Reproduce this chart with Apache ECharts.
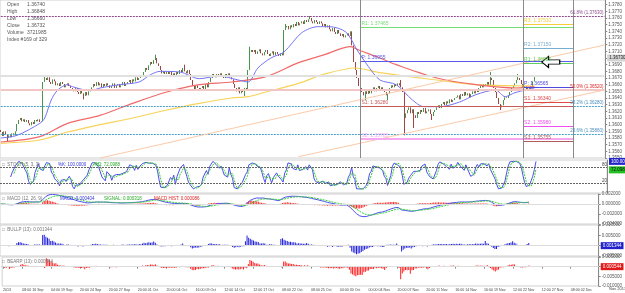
<!DOCTYPE html>
<html>
<head>
<meta charset="utf-8">
<script src="https://cdn.jsdelivr.net/npm/echarts@6/dist/echarts.min.js"></script>
<style>
html, body { margin: 0; padding: 0; background: #fff; }
#chart { width: 625px; height: 293px; }
</style>
</head>
<body>
<div id="chart"></div>
<script>
// price bars (H4), open of each bar = previous close
const firstOpen = 1.3592;
const closes = [
  1.3589, 1.3583, 1.3590, 1.3586, 1.3580, 1.3584, 1.3581, 1.3587, 1.3584, 1.3590,
  1.3601, 1.3607, 1.3610, 1.3605, 1.3608, 1.3604, 1.3607, 1.3602, 1.3599, 1.3604, 1.3601, 1.3607, 1.3605, 1.3608, 1.3604, 1.3605,
  1.3664, 1.3670,
  1.3667, 1.3671, 1.3664, 1.3661, 1.3668, 1.3665, 1.3659, 1.3662, 1.3658, 1.3664, 1.3661, 1.3656, 1.3659, 1.3662, 1.3658, 1.3655,
  1.3653, 1.3650, 1.3655, 1.3649, 1.3646, 1.3652, 1.3647, 1.3643, 1.3649, 1.3644, 1.3650, 1.3653, 1.3656,
  1.3661, 1.3658, 1.3664, 1.3659, 1.3662, 1.3656, 1.3661, 1.3658, 1.3662, 1.3659, 1.3655,
  1.3658, 1.3662, 1.3655, 1.3659, 1.3661, 1.3656, 1.3659, 1.3664, 1.3658, 1.3661,
  1.3664, 1.3667, 1.3662, 1.3668, 1.3665, 1.3671, 1.3667, 1.3670, 1.3674, 1.3673,
  1.3679, 1.3685, 1.3682, 1.3689, 1.3694, 1.3691, 1.3697, 1.3700,
  1.3692, 1.3688, 1.3682,
  1.3677, 1.3680, 1.3676,
  1.3679, 1.3676, 1.3680, 1.3674, 1.3677, 1.3673, 1.3679, 1.3676, 1.3682, 1.3679, 1.3685, 1.3680, 1.3677, 1.3682, 1.3676,
  1.3667, 1.3658, 1.3653, 1.3659, 1.3655, 1.3652,
  1.3655, 1.3658, 1.3653, 1.3661, 1.3656, 1.3664, 1.3670, 1.3676,
  1.3674, 1.3671, 1.3676, 1.3673, 1.3677, 1.3674, 1.3670, 1.3676, 1.3673, 1.3677, 1.3671, 1.3668,
  1.3661, 1.3655, 1.3650, 1.3656, 1.3647, 1.3653, 1.3649, 1.3655, 1.3652,
  1.3682, 1.3709, 1.3712,
  1.3709, 1.3712, 1.3706, 1.3710, 1.3713, 1.3707, 1.3704, 1.3709, 1.3712, 1.3706, 1.3703, 1.3707, 1.3710, 1.3704, 1.3709, 1.3706, 1.3703, 1.3707, 1.3704,
  1.3742, 1.3746,
  1.3748, 1.3743, 1.3749, 1.3746, 1.3751, 1.3748, 1.3754, 1.3749, 1.3752, 1.3755, 1.3751, 1.3757, 1.3754, 1.3758, 1.3760, 1.3755, 1.3752, 1.3757, 1.3754, 1.3751, 1.3755, 1.3752, 1.3748, 1.3751, 1.3746, 1.3749,
  1.3743, 1.3740, 1.3745, 1.3739, 1.3736, 1.3742, 1.3737, 1.3733, 1.3736, 1.3731, 1.3734,
  1.3737, 1.3733, 1.3740, 1.3719, 1.3694, 1.3682,
  1.3670, 1.3658, 1.3655,
  1.3649, 1.3644, 1.3650, 1.3646, 1.3652, 1.3647,
  1.3653, 1.3656, 1.3650, 1.3655, 1.3658, 1.3652, 1.3656, 1.3653, 1.3649,
  1.3644, 1.3647,
  1.3655, 1.3659, 1.3656, 1.3661, 1.3658, 1.3662, 1.3659, 1.3656,
  1.3649, 1.3610, 1.3617,
  1.3622, 1.3626, 1.3617, 1.3623, 1.3614, 1.3610, 1.3619, 1.3616,
  1.3622, 1.3619, 1.3625, 1.3617, 1.3620, 1.3623, 1.3616, 1.3613, 1.3619, 1.3622,
  1.3626, 1.3629, 1.3625, 1.3631, 1.3634, 1.3629, 1.3635, 1.3632, 1.3638, 1.3634, 1.3637, 1.3640,
  1.3641, 1.3644, 1.3638, 1.3646, 1.3643, 1.3649, 1.3644, 1.3647, 1.3641, 1.3646, 1.3650, 1.3647, 1.3652, 1.3649,
  1.3655, 1.3659, 1.3656, 1.3661, 1.3658, 1.3664, 1.3659, 1.3670,
  1.3667, 1.3655, 1.3649, 1.3640, 1.3631, 1.3626, 1.3629, 1.3637, 1.3641, 1.3640, 1.3644, 1.3649, 1.3655, 1.3659,
  1.3662, 1.3667, 1.3670, 1.3667, 1.3661, 1.3655, 1.3658, 1.3652, 1.3656, 1.3653, 1.3658, 1.3665, 1.3673
];
// wicks that stick out of the bodies
const highWickBars = [27, 95, 113, 153, 175, 190, 246, 301, 318];
const highWickVals = [1.3673, 1.3705, 1.3690, 1.3717, 1.3751, 1.3763, 1.3667, 1.3679, 1.3676];
const lowWickBars = [4, 51, 150, 224, 238, 248, 254, 265, 307];
const lowWickVals = [1.3575, 1.3638, 1.3643, 1.3637, 1.3637, 1.3584, 1.3595, 1.3607, 1.3622];

// moving averages (bar, price)
const fastMaBars = [0, 10, 24, 27, 31, 35, 41, 44, 55, 61, 73, 85, 92, 98, 110, 122, 134, 146, 152, 158, 166, 174, 185, 195, 202, 212, 219, 226, 233, 243, 253, 260, 270, 282, 292, 304, 310, 316, 328];
const fastMaVals = [1.3580, 1.3584, 1.3602, 1.3610, 1.3637, 1.3652, 1.3660, 1.3657, 1.3651, 1.3655, 1.3660, 1.3664, 1.3675, 1.3680, 1.3679, 1.3669, 1.3673, 1.3667, 1.3664, 1.3685, 1.3700, 1.3709, 1.3738, 1.3747, 1.3747, 1.3739, 1.3712, 1.3687, 1.3667, 1.3660, 1.3637, 1.3627, 1.3627, 1.3634, 1.3645, 1.3652, 1.3642, 1.3648, 1.3655];
const midMaBars = [0, 24, 41, 61, 81, 102, 122, 142, 163, 183, 199, 215, 220, 233, 243, 268, 292, 317, 328];
const midMaVals = [1.3574, 1.3582, 1.3602, 1.3614, 1.3632, 1.3649, 1.3660, 1.3664, 1.3672, 1.3693, 1.3705, 1.3717, 1.3712, 1.3700, 1.3690, 1.3670, 1.3660, 1.3655, 1.3657];
const slowMaBars = [0, 24, 41, 61, 81, 102, 122, 142, 152, 163, 183, 199, 218, 233, 268, 292, 328];
const slowMaVals = [1.3572, 1.3577, 1.3589, 1.3600, 1.3610, 1.3622, 1.3632, 1.3640, 1.3642, 1.3649, 1.3662, 1.3676, 1.3685, 1.3678, 1.3667, 1.3660, 1.3658];

// pivots
const weekStart = 221, dayStart = 321, pivotEnd = 352;
const weekPivotNames = ['R1', 'P', 'S1', 'S2'];
const weekPivotVals = [1.37465, 1.36955, 1.36280, 1.35785];
const dayPivotNames = ['R3', 'R2', 'R1', 'P', 'S1', 'S2', 'S3'];
const dayPivotVals = [1.37510, 1.37150, 1.36925, 1.36565, 1.36340, 1.35980, 1.35755];
// fibonacci levels
const fibNames = ['61.8%', '50.0%', '38.2%', '23.6%'];
const fibVals = [1.37630, 1.36520, 1.36280, 1.35860];
// channel lines
const channelStartBars = [61, 183];
const channelStartVals = [1.3550, 1.3552];
const channelEndBar = 371;
const channelEndVals = [1.37195, 1.3652];
// wave marks
const waveNames = ['1', '2', '3', '4'];
const waveBars = [318, 316, 309, 326];
const waveVals = [1.36805, 1.36400, 1.36490, 1.36520];

// time axis
const totalSlots = 372;
const tickBars = [0, 12, 30, 48, 66, 84, 102, 120, 138, 156, 174, 192, 210, 228, 246, 264, 282, 300, 318, 336, 354];
const tickLabels = ['2013', '08:00 16 Sep', '04:00 19 Sep', '20:00 24 Sep', '20:00 27 Sep', '20:00 01 Oct', '20:00 04 Oct',
  '16:00 09 Oct', '12:00 14 Oct', '12:00 17 Oct', '08:00 22 Oct', '08:00 25 Oct', '04:00 30 Oct', '00:00 04 Nov',
  '20:00 07 Nov', '20:00 11 Nov', '16:00 14 Nov', '16:00 19 Nov', '12:00 22 Nov', '12:00 27 Nov', '08:00 02 Dec'];

const legendNames = ['Open', 'High', 'Low', 'Close', 'Volume'];
const legendValues = ['1.36740', '1.36848', '1.36660', '1.36732', '3721985'];
const legendIndex = 'Index #169 of 329';

// ---- build ----
const FONT = 'Liberation Sans';
const opens = closes.map((c, i) => i === 0 ? firstOpen : closes[i - 1]);
const highs = closes.map((c, i) => Math.max(opens[i], c));
const lows = closes.map((c, i) => Math.min(opens[i], c));
highWickBars.forEach((b, i) => { highs[b] = Math.max(highs[b], highWickVals[i]); });
lowWickBars.forEach((b, i) => { lows[b] = Math.min(lows[b], lowWickVals[i]); });
const candles = closes.map((c, i) => [opens[i], c, lows[i], highs[i]]);

function ema(src, n) {
  const k = 2 / (n + 1);
  let prev = src[0];
  return src.map((v, i) => (prev = i === 0 ? v : v * k + prev * (1 - k)));
}
function sma(src, n) {
  return src.map((v, i) => {
    if (i < n - 1) return null;
    let s = 0;
    for (let j = i - n + 1; j <= i; j++) {
      if (src[j] == null) return null;
      s += src[j];
    }
    return s / n;
  });
}
// stochastic 5,3,3
const rawK = closes.map((c, i) => {
  if (i < 4) return null;
  const hh = Math.max(...highs.slice(i - 4, i + 1));
  const ll = Math.min(...lows.slice(i - 4, i + 1));
  return hh === ll ? 50 : (c - ll) / (hh - ll) * 100;
});
const stochK = sma(rawK, 3);
const stochD = sma(stochK, 3);
// macd 12,26,9
const e12 = ema(closes, 12), e26 = ema(closes, 26);
const macd = closes.map((c, i) => e12[i] - e26[i]);
const signal = ema(macd, 9);
const hist = macd.map((m, i) => m - signal[i]);
// bulls / bears power 13
const e13 = ema(closes, 13);
const bulls = highs.map((h, i) => h - e13[i]);
const bears = lows.map((l, i) => l - e13[i]);

const last = closes.length - 1;
const xCats = Array.from({ length: totalSlots }, () => '');
tickBars.forEach((b, i) => { xCats[b] = tickLabels[i]; });
const showTick = (i, v) => v !== '';

const hide = { show: false };
function xAx(idx) {
  const bottom = idx === 4;
  return {
    type: 'category', gridIndex: idx, data: xCats, boundaryGap: true,
    axisLine: { show: bottom, lineStyle: { color: '#888' } },
    axisTick: { show: bottom, interval: showTick, alignWithLabel: true, length: 2, lineStyle: { color: '#888' } },
    axisLabel: { show: bottom, interval: showTick, fontSize: 3.6, color: '#444', align: 'left', margin: 2, fontFamily: FONT },
    splitLine: hide
  };
}
function yAx(idx, extra) {
  return Object.assign({
    type: 'value', gridIndex: idx, position: 'right', scale: true,
    axisLine: { show: true, lineStyle: { color: '#888' } },
    axisTick: { show: true, length: 2, lineStyle: { color: '#888' } },
    axisLabel: { fontSize: 4.5, color: '#555', margin: 3, fontFamily: FONT, formatter: v => v.toFixed(6) },
    splitLine: hide
  }, extra);
}
function boxLine(value, bg, fg, text) {
  return {
    yAxis: value, lineStyle: { color: 'rgba(0,0,0,0)', width: 0 },
    label: { show: true, position: 'end', distance: 2, formatter: text, fontSize: 4.5, color: fg, backgroundColor: bg,
      padding: [1, 2], fontFamily: FONT }
  };
}
function hLine(x0, x1, y, color, width, type, text, pos) {
  return [
    { coord: [x0, y], lineStyle: { color: color, width: width, type: type },
      label: text ? { show: true, formatter: text, position: pos, color: color, fontSize: 5, distance: 1, fontFamily: FONT } : { show: false } },
    { coord: [x1, y] }
  ];
}

const weekColors = ['#77dd77', '#5b5bea', '#c85a5a', '#f7a8f0'];
const weekWidths = [1, 1, 1, 2];
const dayColors = ['#f4cf3c', '#7aaed0', '#60cc60', '#4b4bdd', '#e04848', '#ef4fef', '#b05a5a'];
const fibColors = ['#8e4a8e', '#f3c6c6', '#4aa0c8', '#4aa0c8'];
const fibLabelColors = ['#8e4a8e', '#e02020', '#4a90c0', '#4a90c0'];
const fibWidths = [1, 2, 1, 1];
const fibTypes = [[2, 1], 'solid', [2, 1], [2, 1]];

const guideLines = [];
fibVals.forEach((v, i) => {
  guideLines.push([{ coord: [0, v], lineStyle: { color: fibColors[i], width: fibWidths[i], type: fibTypes[i] },
    label: { show: true, formatter: fibNames[i] + ' (' + v.toFixed(5) + ')', position: 'insideEndTop',
      color: fibLabelColors[i], fontSize: 4.5, distance: 1, fontFamily: FONT } },
    { coord: [totalSlots - 1, v] }]);
});
guideLines.push([{ coord: [0, closes[last]], lineStyle: { color: '#e0e0e0', width: 2, type: 'solid' }, label: hide },
  { coord: [totalSlots - 1, closes[last]] }]);
channelStartBars.forEach((b, i) => {
  guideLines.push([{ coord: [b, channelStartVals[i]], lineStyle: { color: '#fbcaa8', width: 1, type: 'solid' }, label: hide },
    { coord: [channelEndBar, channelEndVals[i]] }]);
});
weekPivotVals.forEach((v, i) => {
  guideLines.push(hLine(weekStart, pivotEnd, v, weekColors[i], weekWidths[i], 'solid',
    weekPivotNames[i] + ': ' + v.toFixed(5), 'insideStartTop'));
});
dayPivotVals.forEach((v, i) => {
  guideLines.push(hLine(dayStart, pivotEnd, v, dayColors[i], 1, 'solid',
    dayPivotNames[i] + ': ' + v.toFixed(5), 'insideStartTop'));
});
[weekStart, dayStart, pivotEnd].forEach(b => {
  guideLines.push({ xAxis: b, lineStyle: { color: '#8a8a8a', width: 1, type: 'solid' }, label: hide });
});
guideLines.push(boxLine(closes[last], '#d4d4d4', '#222', closes[last].toFixed(5)));

const markers = waveNames.map((n, i) => ({
  coord: [waveBars[i], waveVals[i]], symbol: 'circle', symbolSize: 1, itemStyle: { opacity: 0 },
  label: { show: true, formatter: n, color: '#333', fontSize: 5, fontFamily: FONT, position: 'inside' }
}));
markers.push({
  coord: [338, 1.3694], symbol: 'path://M0,5 L6,0 L6,3 L16,3 L16,7 L6,7 L6,10 Z', symbolSize: [18, 11],
  itemStyle: { color: '#fff', borderColor: '#000', borderWidth: 1 }, label: hide
});

const kLast = stochK[last], dLast = stochD[last];
// indicator captions: each piece is its own text so nothing overlaps
function caption(left, top, text, color) {
  return { type: 'text', left: left, top: top, silent: true, z: 100,
    style: { text: text, fontSize: 4.5, fill: color, fontFamily: FONT } };
}
const grey = '#777', capBlue = '#3434e0', capGreen = '#22aa22', capRed = '#e02020';

const option = {
  animation: false,
  backgroundColor: '#fff',
  grid: [
    { left: 0, right: 18, top: 0, height: 158 },
    { left: 0, right: 18, top: 160, height: 33 },
    { left: 0, right: 18, top: 194, height: 30 },
    { left: 0, right: 18, top: 225, height: 31 },
    { left: 0, right: 18, top: 257, height: 29 }
  ].map(g => Object.assign(g, { show: true, borderColor: '#d0d0d0', borderWidth: 1 })),
  xAxis: [0, 1, 2, 3, 4].map(xAx),
  yAxis: [
    yAx(0, { min: 1.3550, max: 1.3787, interval: 0.001, scale: false,
      axisLabel: { fontSize: 4.5, color: '#555', margin: 3, fontFamily: FONT, showMaxLabel: false, formatter: v => v.toFixed(4) } }),
    yAx(1, { min: -15, max: 105, scale: false, axisLabel: hide, axisTick: hide }),
    yAx(2, { splitNumber: 2 }),
    yAx(3, { splitNumber: 2 }),
    yAx(4, { splitNumber: 2 })
  ],
  series: [
    { type: 'line', xAxisIndex: 0, yAxisIndex: 0, data: [], silent: true,
      markLine: { silent: true, symbol: 'none', animation: false, data: guideLines } },
    { type: 'line', xAxisIndex: 0, yAxisIndex: 0, data: slowMaBars.map((b, i) => [b, slowMaVals[i]]), smooth: 0.3,
      showSymbol: false, lineStyle: { color: '#f7d35a', width: 1.2 }, silent: true },
    { type: 'line', xAxisIndex: 0, yAxisIndex: 0, data: midMaBars.map((b, i) => [b, midMaVals[i]]), smooth: 0.3,
      showSymbol: false, lineStyle: { color: '#f06a6a', width: 1.2 }, silent: true },
    { type: 'line', xAxisIndex: 0, yAxisIndex: 0, data: fastMaBars.map((b, i) => [b, fastMaVals[i]]), smooth: 0.3,
      showSymbol: false, lineStyle: { color: '#7474f4', width: 1 }, silent: true },
    { type: 'candlestick', xAxisIndex: 0, yAxisIndex: 0, data: candles, barWidth: 1,
      itemStyle: { color: '#6ec56e', color0: '#c25050', borderColor: '#1b7a1b', borderColor0: '#8a1414', borderWidth: 0.8 },
      markPoint: { silent: true, animation: false, data: markers } },

    { type: 'line', xAxisIndex: 1, yAxisIndex: 1, data: stochK, showSymbol: false,
      lineStyle: { color: '#4d4df0', width: 1 }, silent: true,
      markLine: { silent: true, symbol: 'none', data: [
        { yAxis: 80, lineStyle: { color: '#666', width: 1, type: [2, 1] },
          label: { show: true, position: 'insideEndTop', formatter: '80', fontSize: 4.5, color: '#444', distance: 0 } },
        { yAxis: 20, lineStyle: { color: '#666', width: 1, type: [2, 1] },
          label: { show: true, position: 'insideEndTop', formatter: '20', fontSize: 4.5, color: '#444', distance: 0 } },
        boxLine(kLast, '#2424c8', '#fff', kLast.toFixed(4)),
        boxLine(dLast - 3, '#22c022', '#111', dLast.toFixed(4))
      ] } },
    { type: 'line', xAxisIndex: 1, yAxisIndex: 1, data: stochD, showSymbol: false,
      lineStyle: { color: '#33cc33', width: 1, type: [2, 1] }, silent: true },

    { type: 'bar', xAxisIndex: 2, yAxisIndex: 2, data: hist, barWidth: 1, itemStyle: { color: '#ff2a2a' }, silent: true,
      markLine: { silent: true, symbol: 'none', data: [{ yAxis: 0, lineStyle: { color: '#ddd', width: 1, type: 'solid' }, label: hide }] } },
    { type: 'line', xAxisIndex: 2, yAxisIndex: 2, data: macd, showSymbol: false, lineStyle: { color: '#5050f0', width: 1 }, silent: true },
    { type: 'line', xAxisIndex: 2, yAxisIndex: 2, data: signal, showSymbol: false, lineStyle: { color: '#3ad23a', width: 1, type: [2, 1] }, silent: true },

    { type: 'bar', xAxisIndex: 3, yAxisIndex: 3, data: bulls, barWidth: 1, itemStyle: { color: '#2222dd' }, silent: true,
      markLine: { silent: true, symbol: 'none', data: [
        { yAxis: 0, lineStyle: { color: '#ddd', width: 1, type: 'solid' }, label: hide },
        boxLine(bulls[last], '#2222cc', '#fff', bulls[last].toFixed(6))
      ] } },
    { type: 'bar', xAxisIndex: 4, yAxisIndex: 4, data: bears, barWidth: 1, itemStyle: { color: '#ff2020' }, silent: true,
      markLine: { silent: true, symbol: 'none', data: [
        { yAxis: 0, lineStyle: { color: '#ddd', width: 1, type: 'solid' }, label: hide },
        boxLine(bears[last], '#e01818', '#fff', bears[last].toFixed(6))
      ] } }
  ],
  graphic: [
    { type: 'text', left: 7, top: 1, silent: true,
      style: { text: legendNames.concat([legendIndex]).join('\n'), fontSize: 5, lineHeight: 7, fill: '#555', fontFamily: FONT } },
    { type: 'text', left: 27, top: 1, silent: true,
      style: { text: legendValues.join('\n'), fontSize: 5, lineHeight: 7, fill: '#555', fontFamily: FONT } },
    caption(2, 162, '□  STOCH (5, 3, 3)', grey),
    caption(58, 162, '%K: ' + kLast.toFixed(4), capBlue),
    caption(94, 162, '%D: ' + dLast.toFixed(4), capGreen),
    caption(2, 196, '□  MACD (12, 26, 9)', grey),
    caption(60, 196, 'MACD: ' + macd[last].toFixed(6), capBlue),
    caption(104, 196, 'SIGNAL: ' + signal[last].toFixed(6), capGreen),
    caption(154, 196, 'MACD HIST: ' + hist[last].toFixed(6), capRed),
    caption(2, 227, '□  BULLP (13): ' + bulls[last].toFixed(6), grey),
    caption(2, 259, '□  BEARP (13): ' + bears[last].toFixed(6), grey),
    { type: 'text', left: 609, top: 287, silent: true, style: { text: 'Nov 2013', fontSize: 4, fill: '#444', fontFamily: FONT } }
  ]
};

const chart = echarts.init(document.getElementById('chart'));
chart.setOption(option);
</script>
</body>
</html>
